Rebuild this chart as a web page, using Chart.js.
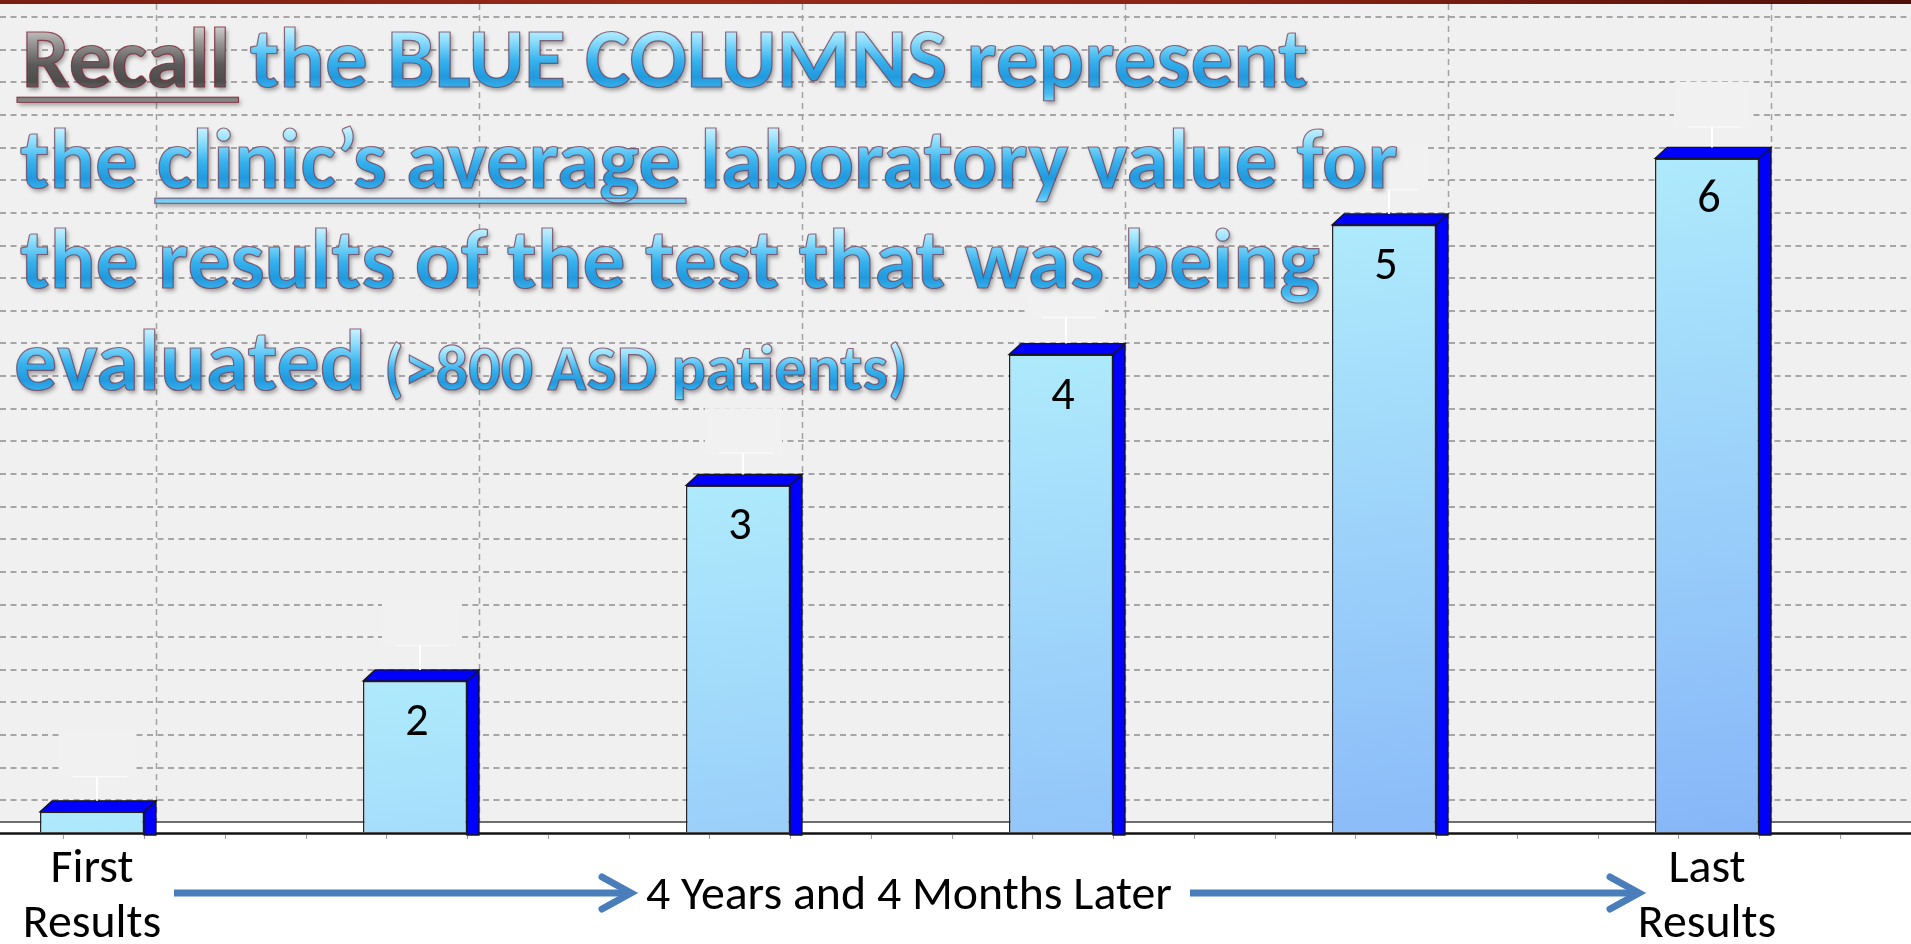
<!DOCTYPE html>
<html><head><meta charset="utf-8">
<script src="https://cdn.jsdelivr.net/npm/chart.js@4.4.1/dist/chart.umd.min.js"></script>
<style>
html,body{margin:0;padding:0;background:#fff;overflow:hidden}
#wrap{position:relative;width:1911px;height:944px}
#topband{position:absolute;left:0;top:0;width:1911px;height:4px;background:linear-gradient(to right,#7a1c10,#9a2a18 35%,#8a2214 65%,#4e0f08);}
canvas{display:block}
</style></head><body>
<div id="wrap"><canvas id="c" width="1911" height="944"></canvas><div id="topband"></div></div>
<script>
// ---------------- data ----------------
const categories = ['1', '2', '3', '4', '5', '6'];
const values = [0.65, 4.66, 10.65, 14.66, 18.63, 20.67];
const errorPlus = [0.74, 0.74, 0.65, 0.80, 0.74, 0.63];
const barLabels = ['', '2', '3', '4', '5', '6'];
const axisLabels = [['First', 'Results'], '', '', '', '', ['Last', 'Results']];
const timelineText = '4 Years and 4 Months Later';
const titleLines = [
  [{t: 'Recall', gray: true, u: true}, {t: ' the BLUE COLUMNS represent'}],
  [{t: 'the '}, {t: 'clinic\u2019s average', u: true}, {t: ' laboratory value for'}],
  [{t: 'the results of the test that was being'}],
  [{t: 'evaluated '}, {t: '(>800 ASD patients)', small: true}]
];

// ---------------- layout ----------------
const W = 1911, H = 944;
const PX_PER_CAT = 323, FIRST_CENTER = 92;
const X_MIN = -FIRST_CENTER / PX_PER_CAT, X_MAX = X_MIN + W / PX_PER_CAT;
const Y_MAX = 25.4, TOP = 4, AXIS_H = 111;
const DX = 12, DY = 11;
const FLOOR_BACK = 822, FLOOR_FRONT = 833;
const FAM = 'Carlito, Lato, "Open Sans", sans-serif';

const mctx = document.createElement('canvas').getContext('2d');
function widthAt(text, weight, size){ mctx.font = weight + ' ' + size + 'px ' + FAM; return mctx.measureText(text).width; }
function fit(text, weight, target){ return 100 * target / widthAt(text, weight, 100); }

const bottomSize = fit(timelineText, 'normal', 526);
mctx.font = 'normal 100px ' + FAM;
const digitAsc = mctx.measureText('2').actualBoundingBoxAscent;
const digitSize = 100 * 30.5 / digitAsc;

// title geometry (x start, target right edge, baseline)
const titleGeom = [
  {x: 22, right: 1308, base: 87},
  {x: 20, right: 1398, base: 188},
  {x: 20, right: 1320, base: 288},
  {x: 14, right: 366, base: 390, smallX: 384, smallRight: 908}
];

function glossFill(ctx, base, size, gray){
  const g = ctx.createLinearGradient(0, base - 0.74 * size, 0, base + 0.22 * size);
  if (gray) {
    g.addColorStop(0, '#d8d8d8'); g.addColorStop(0.22, '#9a9a9a'); g.addColorStop(0.5, '#5a5a5a');
    g.addColorStop(0.7, '#4c4c4c'); g.addColorStop(0.9, '#7c7c7c'); g.addColorStop(1, '#a0a0a0');
  } else {
    g.addColorStop(0, '#d4f6ff'); g.addColorStop(0.2, '#8fdffc'); g.addColorStop(0.45, '#36b2ee');
    g.addColorStop(0.65, '#2199de'); g.addColorStop(0.86, '#48bef2'); g.addColorStop(1, '#a0e4fb');
  }
  return g;
}

function drawSeg(ctx, text, x, base, size, gray, underline, ulExtra){
  ctx.save();
  ctx.font = 'bold ' + size + 'px ' + FAM;
  ctx.textBaseline = 'alphabetic'; ctx.textAlign = 'left';
  const w = ctx.measureText(text).width;
  ctx.fillStyle = glossFill(ctx, base, size, gray);
  ctx.shadowColor = 'rgba(0,0,0,0.35)'; ctx.shadowOffsetX = 2; ctx.shadowOffsetY = 3; ctx.shadowBlur = 4;
  ctx.fillText(text, x, base);
  const uy = base + 0.12 * size;
  const uh = Math.max(3, 0.06 * size);
  if (underline) ctx.fillRect(x - ulExtra[0], uy, w + ulExtra[0] + ulExtra[1], uh);
  ctx.shadowColor = 'transparent';
  ctx.lineWidth = 1.2;
  ctx.strokeStyle = gray ? 'rgba(130,45,60,0.85)' : 'rgba(115,60,85,0.75)';
  ctx.strokeText(text, x, base);
  if (underline) ctx.strokeRect(x - ulExtra[0], uy, w + ulExtra[0] + ulExtra[1], uh);
  ctx.restore();
  return w;
}

function drawTitle(ctx){
  titleLines.forEach((segs, li) => {
    const g = titleGeom[li];
    const mainText = segs.filter(s => !s.small).map(s => s.t).join('');
    const size = 100 * (g.right - g.x) / widthAt(mainText.replace(/\s+$/, ''), 'bold', 100);
    let x = g.x;
    segs.forEach(s => {
      if (s.small) {
        const ss = 100 * (g.smallRight - g.smallX) / widthAt(s.t, 'bold', 100);
        drawSeg(ctx, s.t, g.smallX, g.base, ss, false, false);
      } else {
        const ul = s.gray ? [5, 8] : [2, 5];
        x += drawSeg(ctx, s.t, x, g.base, size, !!s.gray, !!s.u, ul);
      }
    });
  });
}

function drawArrow(ctx, x0, x1, y){
  ctx.save();
  ctx.strokeStyle = '#4a7ebb'; ctx.lineWidth = 7;
  ctx.lineCap = 'butt';
  ctx.beginPath(); ctx.moveTo(x0, y); ctx.lineTo(x1 - 4, y); ctx.stroke();
  ctx.lineCap = 'round'; ctx.lineJoin = 'miter';
  ctx.beginPath(); ctx.moveTo(x1 - 31, y - 16); ctx.lineTo(x1 - 2, y); ctx.lineTo(x1 - 31, y + 16); ctx.stroke();
  ctx.restore();
}

const deco = {
  id: 'deco',
  beforeDraw(chart){
    const ctx = chart.ctx;
    ctx.save();
    ctx.fillStyle = '#ffffff'; ctx.fillRect(0, 0, W, H);
    ctx.fillStyle = '#f0f0f0'; ctx.fillRect(0, 0, W, FLOOR_FRONT + 2);
    ctx.restore();
  },
  beforeDatasetsDraw(chart){
    const ctx = chart.ctx;
    const meta = chart.getDatasetMeta(0);
    ctx.save();
    ctx.strokeStyle = '#a2a2a2'; ctx.lineWidth = 1.5; ctx.setLineDash([6, 5]);
    meta.data.forEach(b => {
      const gx = Math.round(b.x + b.width / 2 + DX) + 0.5;
      ctx.beginPath(); ctx.moveTo(gx, TOP); ctx.lineTo(gx, FLOOR_BACK); ctx.stroke();
    });
    ctx.setLineDash([]);
    ctx.fillStyle = '#ffffff'; ctx.fillRect(0, FLOOR_BACK, W, FLOOR_FRONT - FLOOR_BACK);
    ctx.strokeStyle = '#6e6e6e'; ctx.lineWidth = 2;
    ctx.beginPath(); ctx.moveTo(0, FLOOR_BACK); ctx.lineTo(W, FLOOR_BACK); ctx.stroke();
    ctx.strokeStyle = '#141414'; ctx.lineWidth = 2.5;
    ctx.beginPath(); ctx.moveTo(0, FLOOR_FRONT + 0.5); ctx.lineTo(W, FLOOR_FRONT + 0.5); ctx.stroke();
    const b0 = meta.data[0];
    const step = PX_PER_CAT / 4;
    ctx.strokeStyle = '#9c9c9c'; ctx.lineWidth = 1;
    for (let tx = b0.x + b0.width / 2 - step; tx < W; tx += step) {
      const px = Math.round(tx) + 0.5;
      ctx.beginPath(); ctx.moveTo(px, FLOOR_FRONT + 2); ctx.lineTo(px, FLOOR_FRONT + 6); ctx.stroke();
    }
    ctx.restore();
  },
  afterDatasetsDraw(chart){
    const ctx = chart.ctx;
    const meta = chart.getDatasetMeta(0);
    const ys = chart.scales.y;
    ctx.save();
    meta.data.forEach((b, i) => {
      const L = b.x - b.width / 2, R = b.x + b.width / 2, T = b.y;
      ctx.fillStyle = '#0000ff'; ctx.strokeStyle = '#161616'; ctx.lineWidth = 1.3;
      ctx.beginPath();
      ctx.moveTo(R, T); ctx.lineTo(R + DX, T - DY); ctx.lineTo(R + DX, FLOOR_FRONT + 2); ctx.lineTo(R, FLOOR_FRONT + 2); ctx.closePath();
      ctx.fill(); ctx.stroke();
      ctx.beginPath();
      ctx.moveTo(L, T); ctx.lineTo(L + DX, T - DY); ctx.lineTo(R + DX, T - DY); ctx.lineTo(R, T); ctx.closePath();
      ctx.fill(); ctx.stroke();
      const ex = b.x + 5;
      const y0 = T - DY;
      const y1 = ys.getPixelForValue(values[i] + errorPlus[i]) - DY;
      ctx.fillStyle = '#f1f1f1';
      ctx.fillRect(ex - 38, y1 - 45, 77, 45);
      ctx.strokeStyle = 'rgba(255,255,255,0.95)'; ctx.lineWidth = 2;
      ctx.beginPath(); ctx.moveTo(ex, y0); ctx.lineTo(ex, y1); ctx.stroke();
      ctx.lineWidth = 1.2; ctx.strokeStyle = 'rgba(255,255,255,0.7)';
      ctx.beginPath(); ctx.moveTo(ex - 24, y1); ctx.lineTo(ex + 30, y1); ctx.stroke();
      if (barLabels[i]) {
        ctx.fillStyle = '#000000';
        ctx.font = 'normal ' + digitSize + 'px ' + FAM;
        ctx.textAlign = 'center'; ctx.textBaseline = 'alphabetic';
        ctx.fillText(barLabels[i], b.x + 2, T + 54);
      }
    });
    ctx.restore();
  },
  afterDraw(chart){
    const ctx = chart.ctx;
    ctx.save();
    ctx.fillStyle = '#000'; ctx.font = 'normal ' + bottomSize + 'px ' + FAM;
    ctx.textAlign = 'left'; ctx.textBaseline = 'alphabetic';
    ctx.fillText(timelineText, 646, 909);
    ctx.restore();
    drawArrow(ctx, 174, 633, 893);
    drawArrow(ctx, 1190, 1641, 893);
    drawTitle(ctx);
  }
};

const ctxMain = document.getElementById('c').getContext('2d');
new Chart(ctxMain, {
  type: 'bar',
  data: {
    datasets: [{
      data: categories.map((c, i) => ({x: i, y: values[i]})),
      backgroundColor(c){
        const ch = c.chart;
        if (!ch.chartArea || c.type !== 'data' || !c.parsed) return '#a6dcf9';
        const x = ch.scales.x.getPixelForValue(c.parsed.x);
        const y = ch.scales.y.getPixelForValue(c.parsed.y);
        const g = ch.ctx.createLinearGradient(x - 52, y, x + 52, y + 700);
        g.addColorStop(0, '#aeeafc'); g.addColorStop(1, '#86b4f8');
        return g;
      },
      borderColor: '#262626',
      borderWidth: 1.5,
      barPercentage: 104 / PX_PER_CAT,
      categoryPercentage: 1
    }]
  },
  options: {
    responsive: false, animation: false, devicePixelRatio: 1,
    layout: {padding: {top: TOP, left: 0, right: 0, bottom: 0}},
    plugins: {legend: {display: false}, tooltip: {enabled: false}, title: {display: false}},
    scales: {
      x: {
        type: 'linear', min: X_MIN, max: X_MAX, offset: false,
        grid: {display: false, drawTicks: false, offset: false},
        border: {display: false},
        ticks: {
          stepSize: 1, includeBounds: false, autoSkip: false, maxRotation: 0, minRotation: 0,
          padding: 10, color: '#000000',
          font: {family: FAM, size: bottomSize, lineHeight: '55px'},
          callback: v => axisLabels[v] || ''
        },
        afterFit: s => { s.height = AXIS_H; }
      },
      y: {
        min: 0, max: Y_MAX,
        grid: {color: '#a6a6a6', lineWidth: 2, drawTicks: false},
        border: {display: false, dash: [6, 4.5]},
        ticks: {display: false, stepSize: 1, includeBounds: false},
        afterFit: s => { s.width = 0; }
      }
    }
  },
  plugins: [deco]
});
</script>
</body></html>
